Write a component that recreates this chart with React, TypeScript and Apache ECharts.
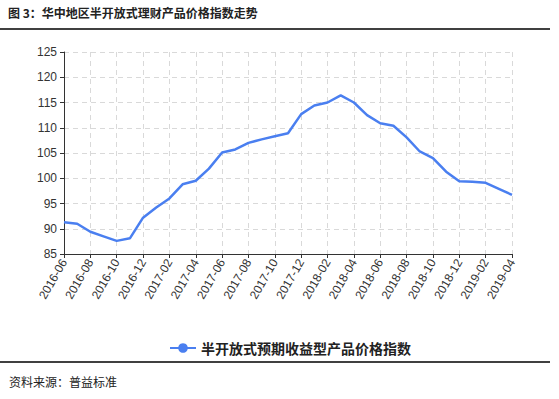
import React, { useEffect, useRef } from "react";
import * as echarts from "echarts";

const categories: string[] = [
  "2016-06", "2016-07", "2016-08", "2016-09", "2016-10", "2016-11", "2016-12",
  "2017-01", "2017-02", "2017-03", "2017-04", "2017-05", "2017-06", "2017-07",
  "2017-08", "2017-09", "2017-10", "2017-11", "2017-12",
  "2018-01", "2018-02", "2018-03", "2018-04", "2018-05", "2018-06", "2018-07",
  "2018-08", "2018-09", "2018-10", "2018-11", "2018-12",
  "2019-01", "2019-02", "2019-03", "2019-04",
];

const indexValues: number[] = [
  91.3, 91.0, 89.4, 88.5, 87.6, 88.1, 92.2,
  94.2, 96.0, 98.8, 99.5, 101.9, 105.1, 105.7,
  107.0, 107.7, 108.3, 108.9, 112.7,
  114.4, 115.0, 116.4, 115.0, 112.5, 110.9, 110.4,
  108.1, 105.3, 104.0, 101.3, 99.4,
  99.3, 99.1, 97.9, 96.7,
];

const seriesName = "半开放式预期收益型产品价格指数";
const titleText = "图 3：华中地区半开放式理财产品价格指数走势";
const sourceText = "资料来源：普益标准";

export default function App() {
  const ref = useRef<HTMLDivElement>(null);
  useEffect(() => {
    if (!ref.current) return;
    const chart = echarts.init(ref.current, null, { renderer: "svg" });
    const sans = "'Liberation Sans', Arial, sans-serif";
    const cjk = "'Noto Sans CJK SC', sans-serif";
    chart.setOption({
      animation: false,
      backgroundColor: "#ffffff",
      grid: { left: 64, right: 47, top: 52, bottom: 145, containLabel: false },
      legend: {
        show: true,
        left: 164,
        top: 336,
        itemWidth: 26,
        itemHeight: 12,
        textStyle: { fontFamily: cjk, fontSize: 14, fontWeight: "bold", color: "#222" },
        data: [seriesName],
      },
      xAxis: {
        type: "category",
        data: categories,
        boundaryGap: false,
        axisLine: { show: true, lineStyle: { color: "#333", width: 1 } },
        axisTick: { show: true, interval: 1, length: 4, lineStyle: { color: "#333" } },
        axisLabel: {
          interval: 1,
          rotate: 60,
          fontFamily: sans,
          fontSize: 12,
          color: "#333",
          margin: 6,
        },
        splitLine: { show: true, interval: 1, lineStyle: { color: "#d9d9d9", type: [5, 4] } },
      },
      yAxis: {
        type: "value",
        min: 85,
        max: 125,
        interval: 5,
        axisLine: { show: true, lineStyle: { color: "#333", width: 1 } },
        axisTick: { show: true, length: 4, lineStyle: { color: "#333" } },
        axisLabel: { fontFamily: sans, fontSize: 12, color: "#333", margin: 7 },
        splitLine: { show: true, lineStyle: { color: "#d9d9d9", type: [5, 4] } },
      },
      series: [
        {
          name: seriesName,
          type: "line",
          data: indexValues,
          symbol: "circle",
          symbolSize: 10,
          showSymbol: false,
          lineStyle: { color: "#4a7ff0", width: 2.5 },
          itemStyle: { color: "#4a7ff0" },
        },
      ],
      graphic: [
        {
          type: "text",
          left: 8,
          top: 6,
          style: { text: titleText, fontFamily: cjk, fontSize: 12, fontWeight: "bold", fill: "#222" },
        },
        {
          type: "line",
          shape: { x1: 0, y1: 29, x2: 550, y2: 29 },
          style: { stroke: "#000", lineWidth: 1.5 },
        },
        {
          type: "line",
          shape: { x1: 0, y1: 362, x2: 550, y2: 362 },
          style: { stroke: "#000", lineWidth: 1.5 },
        },
        {
          type: "text",
          left: 9,
          top: 375,
          style: { text: sourceText, fontFamily: cjk, fontSize: 12, fill: "#222" },
        },
      ],
    });
    return () => chart.dispose();
  }, []);
  return (
    <div
      ref={ref}
      style={{ position: "absolute", left: 0, top: 0, width: 559, height: 399 }}
    />
  );
}
